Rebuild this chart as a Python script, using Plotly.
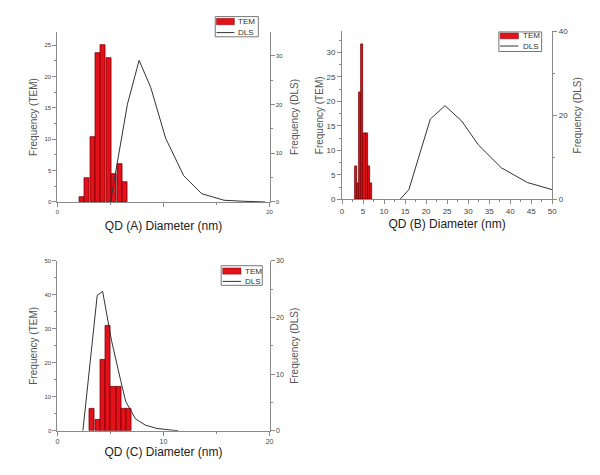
import plotly.graph_objects as go

# ---------------- data ----------------
# Panel A (QD A)
tem_a_x = [2.32, 2.82, 3.32, 3.82, 4.32, 4.82, 5.34, 5.85, 6.35]
tem_a_y = [0.8, 3.8, 10.3, 23.7, 25.1, 22.9, 4.5, 6.0, 3.1]
dls_a_x = [5.0, 6.6, 7.7, 8.8, 10.2, 11.9, 13.6, 15.7, 17.6, 19.6]
dls_a_y = [0.0, 20.1, 29.1, 23.5, 13.1, 5.4, 1.7, 0.35, 0.14, 0.0]

# Panel B (QD B)
tem_b_x = [3.35, 3.85, 4.35, 4.85, 5.35, 5.85, 6.35, 6.85]
tem_b_y = [6.7, 3.3, 21.8, 31.6, 13.4, 13.4, 6.7, 3.3]
dls_b_x = [13.8, 15.9, 21.0, 24.5, 28.5, 32.4, 37.9, 44.1, 50.0]
dls_b_y = [0.0, 2.3, 19.1, 22.3, 18.6, 13.0, 7.5, 4.0, 2.3]

# Panel C (QD C)
tem_c_x = [3.28, 3.78, 4.28, 4.78, 5.28, 5.78, 6.28, 6.78]
tem_c_y = [6.5, 3.2, 21.0, 31.0, 13.0, 13.0, 6.5, 6.5]
dls_c_x = [2.4, 3.75, 4.26, 5.1, 5.96, 6.43, 7.36, 8.29, 9.38, 10.3, 11.4]
dls_c_y = [0.0, 23.9, 24.6, 15.9, 8.9, 5.2, 2.1, 1.0, 0.4, 0.17, 0.0]

OFF = 8  # page body margin
W, H = 600 - OFF, 475 - OFF
FONT = "Liberation Sans, Arial, sans-serif"
BAR_FILL = "#e3111b"
BAR_EDGE = "#7a0000"
AXIS_COL = "#8a8a8a"
LINE_COL = "#333333"


def px(x):
    return (x - OFF) / W


def py(y):
    return 1 - (y - OFF) / H


fig = go.Figure()

panels = [
    dict(tx=tem_a_x, ty=tem_a_y, dx=dls_a_x, dy=dls_a_y, xa="x", ya="y", ya2="y2"),
    dict(tx=tem_b_x, ty=tem_b_y, dx=dls_b_x, dy=dls_b_y, xa="x2", ya="y3", ya2="y4"),
    dict(tx=tem_c_x, ty=tem_c_y, dx=dls_c_x, dy=dls_c_y, xa="x3", ya="y5", ya2="y6"),
]
for p in panels:
    fig.add_trace(go.Bar(x=p["tx"], y=p["ty"], width=0.48, name="TEM",
                         marker=dict(color=BAR_FILL, line=dict(color=BAR_EDGE, width=0.8)),
                         xaxis=p["xa"], yaxis=p["ya"], showlegend=False))
    fig.add_trace(go.Scatter(x=p["dx"], y=p["dy"], mode="lines", name="DLS",
                             line=dict(color=LINE_COL, width=1),
                             xaxis=p["xa"], yaxis=p["ya2"], showlegend=False))


def xax(domain, rng, dtick, anchor, title, tickvals=None, ticktext=None, fs=7, standoff=6):
    d = dict(domain=domain, range=rng, anchor=anchor, showgrid=False, zeroline=False,
             showline=True, linecolor=AXIS_COL, linewidth=1, ticks="outside", ticklen=4,
             tickcolor=AXIS_COL, tickfont=dict(size=fs, color="#444"),
             minor=dict(ticks="outside", ticklen=2, tickcolor=AXIS_COL, dtick=dtick / 2),
             title=dict(text=title, font=dict(size=12, color="#222"), standoff=standoff))
    if tickvals is not None:
        d.update(tickmode="array", tickvals=tickvals, ticktext=ticktext)
    else:
        d.update(dtick=dtick, tick0=0)
    return d


def yax(domain, rng, dtick, anchor, title, side="left", overlaying=None, fs=7, standoff=8):
    d = dict(domain=domain, range=rng, anchor=anchor, side=side, showgrid=False,
             zeroline=False, showline=True, linecolor=AXIS_COL, linewidth=1,
             ticks="outside", ticklen=4, tickcolor=AXIS_COL, dtick=dtick, tick0=0,
             tickfont=dict(size=fs, color="#444"),
             minor=dict(ticks="outside", ticklen=2, tickcolor=AXIS_COL, dtick=dtick / 2),
             title=dict(text=title, font=dict(size=10, color="#555"), standoff=standoff))
    if overlaying:
        d["overlaying"] = overlaying
    return d


xA = [px(56), px(270.7)]
yA = [py(201.7), py(28.5)]
xB = [px(344), px(556.7)]
yB = [py(199), py(27.7)]
xC = [px(56), px(270.7)]
yC = [py(435), py(261.7)]

fig.update_layout(
    width=W, height=H, margin=dict(l=0, r=0, t=0, b=0),
    paper_bgcolor="white", plot_bgcolor="white",
    font=dict(family=FONT), bargap=0, showlegend=False,
    xaxis=xax(xA, [0, 20], 10, "y", "QD (A) Diameter (nm)", [0, 10, 20], ["0", "", "20"], fs=6, standoff=7),
    yaxis=yax(yA, [0, 27.1], 5, "x", "Frequency (TEM)", fs=6, standoff=5),
    yaxis2=yax(yA, [0, 34.9], 10, "x", "Frequency (DLS)", side="right", overlaying="y", fs=6, standoff=8),
    xaxis2=xax(xB, [0, 50], 5, "y3", "QD (B) Diameter (nm)", fs=8, standoff=4),
    yaxis3=yax(yB, [0, 34.3], 5, "x2", "Frequency (TEM)", fs=8, standoff=1),
    yaxis4=yax(yB, [0, 40], 20, "x2", "Frequency (DLS)", side="right", overlaying="y3", fs=8, standoff=6),
    xaxis3=xax(xC, [0, 20], 10, "y5", "QD (C) Diameter (nm)", fs=7, standoff=2),
    yaxis5=yax(yC, [0, 50], 10, "x3", "Frequency (TEM)", fs=6, standoff=5),
    yaxis6=yax(yC, [0, 30], 10, "x3", "Frequency (DLS)", side="right", overlaying="y5", fs=7, standoff=8),
)

# ---------------- legends (drawn as boxes + text) ----------------
legends = [
    dict(box=(215.7, 12.7, 259.3, 33.3), rect=(217, 14.5, 235, 21), ly=29, tx=237),
    dict(box=(502.7, 28.3, 546, 48.3), rect=(504, 29.5, 522.5, 35.3), ly=42.7, tx=525),
    dict(box=(221.7, 266.7, 263.3, 286.7), rect=(223.3, 269, 241.7, 275.3), ly=282.7, tx=244),
]
for lg in legends:
    x0, y0, x1, y1 = lg["box"]
    fig.add_shape(type="rect", xref="paper", yref="paper", x0=px(x0), y0=py(y1), x1=px(x1), y1=py(y0),
                  line=dict(color="#777", width=1), fillcolor="white", layer="above")
    rx0, ry0, rx1, ry1 = lg["rect"]
    fig.add_shape(type="rect", xref="paper", yref="paper", x0=px(rx0), y0=py(ry1), x1=px(rx1), y1=py(ry0),
                  line=dict(color=BAR_EDGE, width=0.5), fillcolor=BAR_FILL, layer="above")
    fig.add_shape(type="line", xref="paper", yref="paper", x0=px(rx0), y0=py(lg["ly"]), x1=px(rx1), y1=py(lg["ly"]),
                  line=dict(color=LINE_COL, width=1), layer="above")
    for label, yy in (("TEM", (ry0 + ry1) / 2), ("DLS", lg["ly"])):
        fig.add_annotation(xref="paper", yref="paper", x=px(lg["tx"]), y=py(yy), text=label,
                           showarrow=False, xanchor="left", yanchor="middle",
                           font=dict(size=8, color="#333", family=FONT))

fig.write_html("out.html")
